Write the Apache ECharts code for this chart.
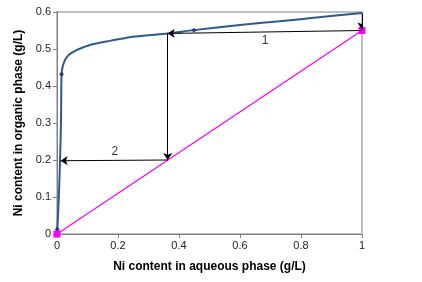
<!DOCTYPE html>
<html>
<head>
<meta charset="utf-8">
<script src="https://cdn.jsdelivr.net/npm/echarts@6/dist/echarts.min.js"></script>
<style>html,body{margin:0;padding:0;background:#fff}#c{width:422px;height:282px}</style>
</head>
<body>
<div id="c"></div>
<script>
// Equilibrium isotherm
const isoX = [0.001, 0.006, 0.010, 0.013, 0.014, 0.015, 0.018, 0.024, 0.033, 0.045, 0.064, 0.085, 0.108, 0.14, 0.174, 0.239, 0.3, 0.363, 0.449, 0.6, 0.73, 0.85, 1.0];
const isoY = [0.013, 0.100, 0.200, 0.300, 0.389, 0.432, 0.450, 0.466, 0.479, 0.488, 0.497, 0.504, 0.511, 0.517, 0.522, 0.532, 0.537, 0.542, 0.551, 0.565, 0.575, 0.585, 0.597];
// Measured points on isotherm
const ptX = [0.001, 0.015, 0.449];
const ptY = [0.013, 0.432, 0.551];
// Operating line
const opX = [0, 1];
const opY = [0, 0.55];
// Stage construction arrows [x1, y1, x2, y2]
const arrows = [
  [1, 0.597, 1, 0.553],
  [1, 0.55, 0.363, 0.542],
  [0.363, 0.542, 0.363, 0.2],
  [0.363, 0.2, 0.012, 0.198]
];
// Stage labels
const stageLabels = ['1', '2'];
const stageLabelX = [0.682, 0.19];
const stageLabelY = [0.522, 0.222];
const xTicks = [0, 0.2, 0.4, 0.6, 0.8, 1];
const yTicks = [0, 0.1, 0.2, 0.3, 0.4, 0.5, 0.6];

const zip = (a, b) => a.map((v, i) => [v, b[i]]);
const font = 'Liberation Sans, Arial, sans-serif';

const chart = echarts.init(document.getElementById('c'), null, {renderer: 'canvas'});
chart.setOption({
  animation: false,
  grid: {left: 57, right: 60, top: 12, bottom: 48, show: true, borderColor: '#C0C0C0', borderWidth: 2},
  xAxis: {
    type: 'value', min: 0, max: 1, interval: 0.2,
    name: 'Ni content in aqueous phase (g/L)', nameLocation: 'middle', nameGap: 27,
    nameTextStyle: {fontFamily: font, fontSize: 12, fontWeight: 'bold', color: '#000'},
    axisLine: {show: true, lineStyle: {color: '#808080', width: 1}},
    axisTick: {show: true, length: 4, lineStyle: {color: '#808080'}},
    axisLabel: {fontFamily: font, fontSize: 11, color: '#222', margin: 6, formatter: v => String(+v.toFixed(1))},
    splitLine: {show: false}
  },
  yAxis: {
    type: 'value', min: 0, max: 0.6, interval: 0.1,
    name: 'Ni content in organic phase (g/L)', nameLocation: 'middle', nameGap: 30,
    nameTextStyle: {fontFamily: font, fontSize: 12, fontWeight: 'bold', color: '#000'},
    axisLine: {show: true, lineStyle: {color: '#808080', width: 1}},
    axisTick: {show: true, length: 4, lineStyle: {color: '#808080'}},
    axisLabel: {fontFamily: font, fontSize: 11, color: '#222', margin: 6, formatter: v => String(+v.toFixed(1))},
    splitLine: {show: false}
  },
  series: [
    {
      type: 'line', data: zip(opX, opY), symbol: 'rect', symbolSize: 7, showSymbol: true,
      lineStyle: {color: '#FF00FF', width: 1.3}, itemStyle: {color: '#FF00FF'}, z: 3
    },
    {
      type: 'line', data: zip(isoX, isoY), smooth: 0.3, showSymbol: false, symbol: 'none',
      lineStyle: {color: '#2F5B8C', width: 2}, z: 4
    },
    {
      type: 'scatter', data: zip(ptX, ptY), symbol: 'diamond', symbolSize: 5,
      itemStyle: {color: '#1A237E'}, z: 5
    },
    {
      type: 'lines', coordinateSystem: 'cartesian2d', polyline: false,
      symbol: ['none', 'arrow'], symbolSize: 7,
      lineStyle: {color: '#000', width: 1, opacity: 1},
      data: arrows.map(a => ({coords: [[a[0], a[1]], [a[2], a[3]]]})), z: 6
    },
    {
      type: 'scatter', symbolSize: 0,
      data: stageLabels.map((t, i) => ({value: [stageLabelX[i], stageLabelY[i]], name: t})),
      label: {show: true, formatter: p => p.name, position: 'inside', fontFamily: font, fontSize: 12, color: '#000'},
      z: 7
    }
  ]
});
</script>
</body>
</html>
